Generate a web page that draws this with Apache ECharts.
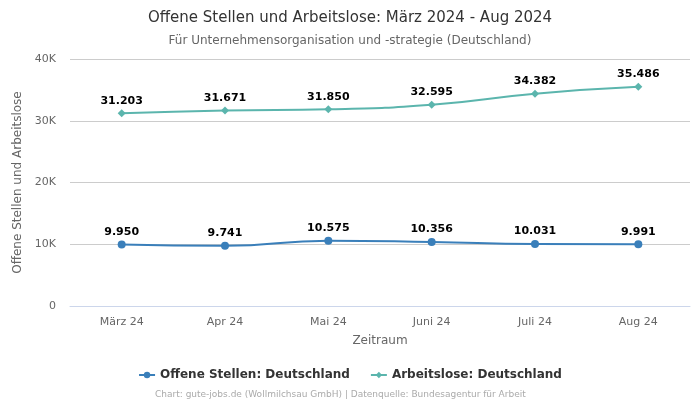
<!DOCTYPE html>
<html><head><meta charset="utf-8">
<script src="https://cdn.jsdelivr.net/npm/echarts@6/dist/echarts.min.js"></script>
<style>html,body{margin:0;padding:0;background:#fff}#c{width:700px;height:400px}</style>
</head><body><div id="c"></div>
<script>
const categories = ['März 24','Apr 24','Mai 24','Juni 24','Juli 24','Aug 24'];
const offeneStellen = [9950, 9741, 10575, 10356, 10031, 9991];
const arbeitslose = [31203, 31671, 31850, 32595, 34382, 35486];
const yTicks = [0, 10000, 20000, 30000, 40000];

const fmt = v => v.toLocaleString('de-DE');
const F = 'DejaVu Sans';
const chart = echarts.init(document.getElementById('c'));
chart.setOption({
  animation: false,
  textStyle: {fontFamily: F},
  title: [
    {text: 'Offene Stellen und Arbeitslose: März 2024 - Aug 2024', left: 'center', top: 6,
     textStyle: {fontFamily: F, fontSize: 15, fontWeight: 'normal', color: '#333'}},
    {text: 'Für Unternehmensorganisation und -strategie (Deutschland)', left: 'center', top: 30,
     textStyle: {fontFamily: F, fontSize: 12, fontWeight: 'normal', color: '#666'}},
    {text: 'Chart: gute-jobs.de (Wollmilchsau GmbH) | Datenquelle: Bundesagentur für Arbeit', left: 150, top: 385,
     textStyle: {fontFamily: F, fontSize: 9, fontWeight: 'normal', color: '#aaa'}}
  ],
  legend: {
    top: 364, left: 'center', itemGap: 20, itemWidth: 16, itemHeight: 8,
    textStyle: {fontFamily: F, fontSize: 12, fontWeight: 'bold', color: '#333'},
    data: ['Offene Stellen: Deutschland', 'Arbeitslose: Deutschland']
  },
  grid: {left: 70, right: 10, top: 59, bottom: 94},
  xAxis: {
    type: 'category', data: categories, boundaryGap: true,
    name: 'Zeitraum', nameLocation: 'middle', nameGap: 29,
    nameTextStyle: {fontFamily: F, fontSize: 12, color: '#666'},
    axisLine: {show: true, lineStyle: {color: '#ccd6eb'}},
    axisTick: {show: false},
    axisLabel: {fontFamily: F, fontSize: 11, color: '#666', margin: 11}
  },
  yAxis: {
    type: 'value', min: yTicks[0], max: yTicks[yTicks.length-1], interval: 10000,
    name: 'Offene Stellen und Arbeitslose', nameLocation: 'middle', nameGap: 34,
    nameTextStyle: {fontFamily: F, fontSize: 12, color: '#666'},
    axisLine: {show: false}, axisTick: {show: false},
    splitLine: {lineStyle: {color: '#cccccc'}},
    axisLabel: {fontFamily: F, fontSize: 11, color: '#666', margin: 14,
      formatter: v => v === 0 ? '0' : (v/1000) + 'K'}
  },
  series: [
    {name: 'Offene Stellen: Deutschland', type: 'line', smooth: true, data: offeneStellen,
     symbol: 'circle', symbolSize: 8, color: '#3a7fba', lineStyle: {width: 2},
     label: {show: true, position: 'top', distance: 3, formatter: p => fmt(p.value),
       fontFamily: F, fontSize: 11, fontWeight: 'bold', color: '#000'}},
    {name: 'Arbeitslose: Deutschland', type: 'line', smooth: true, data: arbeitslose,
     symbol: 'diamond', symbolSize: 8, color: '#5bb5ad', lineStyle: {width: 2},
     label: {show: true, position: 'top', distance: 3, formatter: p => fmt(p.value),
       fontFamily: F, fontSize: 11, fontWeight: 'bold', color: '#000'}}
  ]
});
</script></body></html>
